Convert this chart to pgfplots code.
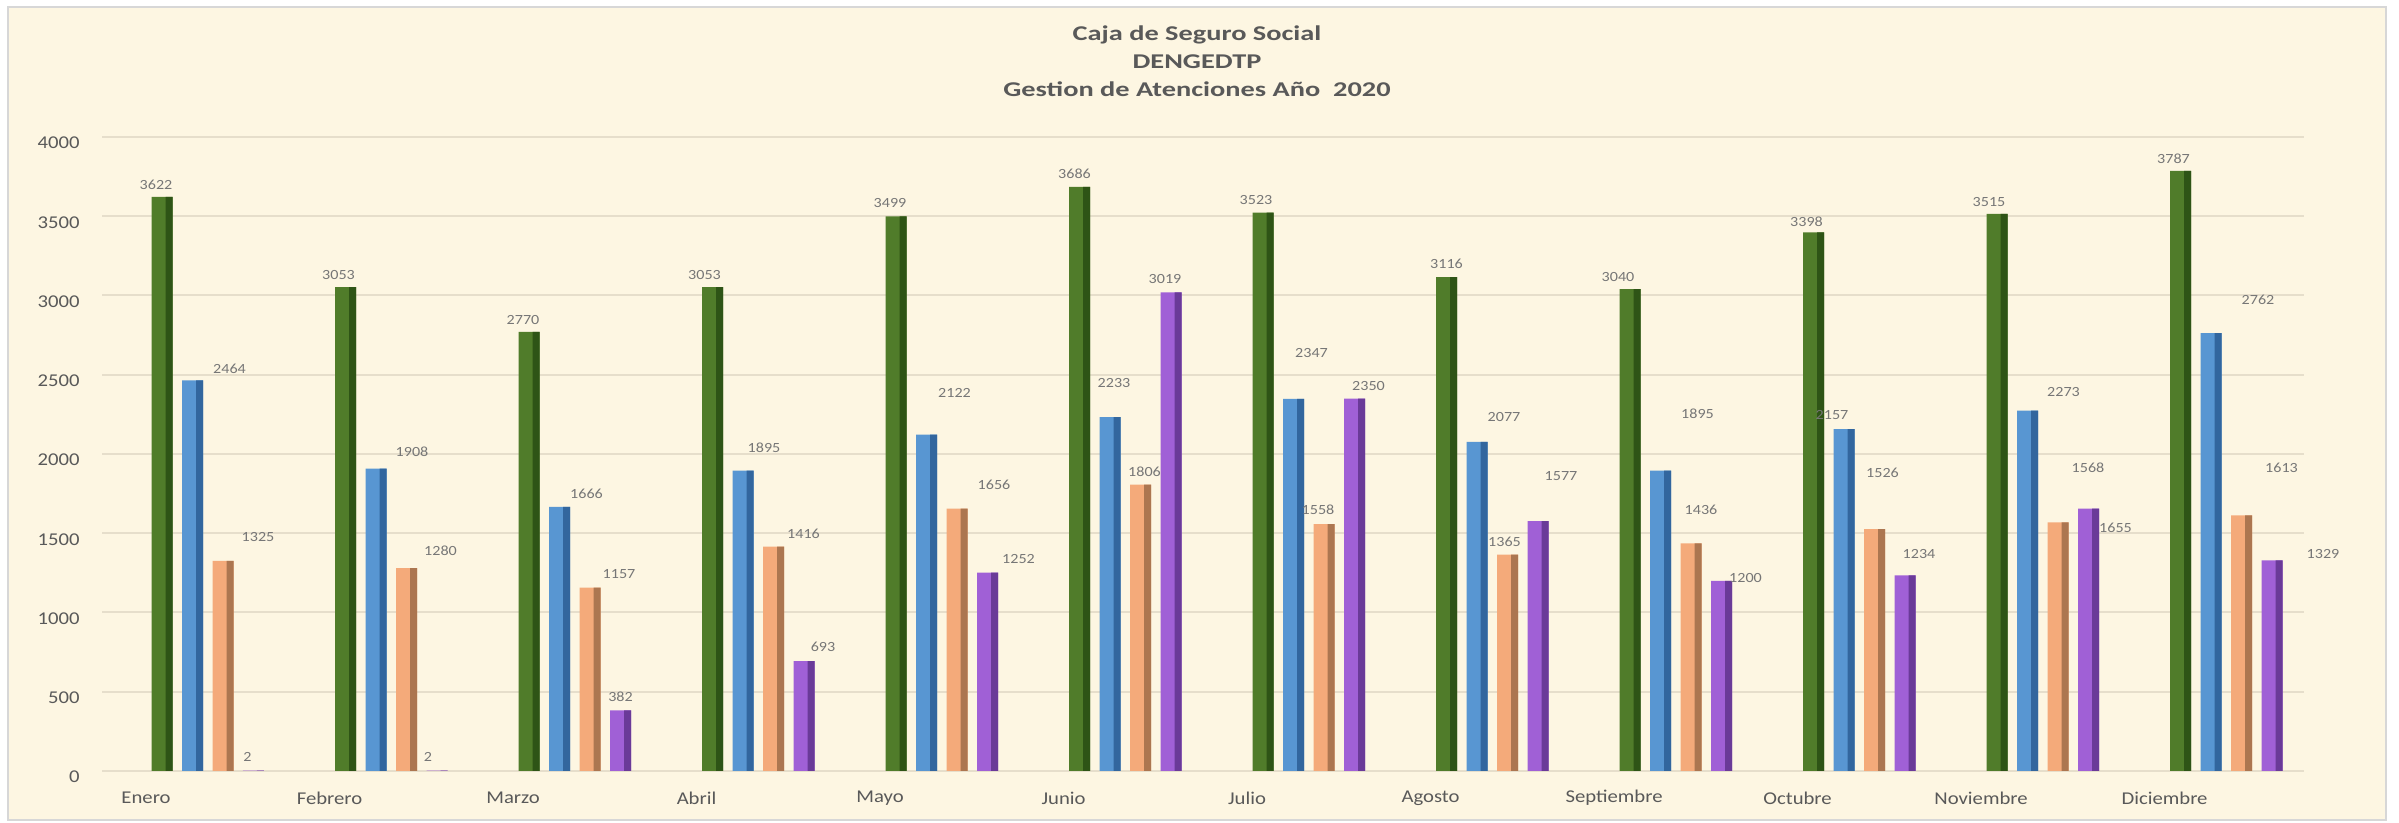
\documentclass[border=0pt]{standalone}
\usepackage{fontspec}
\setmainfont{Carlito}[FakeStretch=1.15]
\newfontfamily\titlefont{Carlito}[FakeStretch=1.35]
\usepackage{pgfplots}
\usepackage{pgfplotstable}
\pgfplotsset{compat=1.18}
\definecolor{bgc}{RGB}{253,246,226}
\definecolor{gridc}{RGB}{230,222,203}
\definecolor{framec}{RGB}{215,215,215}
\definecolor{titc}{RGB}{89,89,89}
\definecolor{lblc}{RGB}{118,118,118}
\definecolor{gL}{RGB}{80,124,42}
\definecolor{gD}{RGB}{46,84,22}
\definecolor{bL}{RGB}{88,150,210}
\definecolor{bD}{RGB}{50,102,158}
\definecolor{oL}{RGB}{244,170,122}
\definecolor{oD}{RGB}{172,118,80}
\definecolor{pL}{RGB}{160,96,214}
\definecolor{pD}{RGB}{106,58,152}

\pgfplotstableread{
x y dx dy
0 3622 -6 12
1 3053 -7 12
2 2770 -6 12
3 3053 -8 12
4 3499 -6 13
5 3686 -5 13
6 3523 -7 13
7 3116 0 13
8 3040 -12 12
9 3398 -7 11
10 3515 -8 12
11 3787 -7 12
}\greendata
\pgfplotstableread{
x y dx dy
0 2464 37 12
1 1908 36 17
2 1666 27 13
3 1895 21 23
4 2122 28 42
5 2233 4 34
6 2347 18 46
7 2077 27 25
8 1895 37 57
9 2157 -12 14
10 2273 36 19
11 2762 47 33
}\bluedata
\pgfplotstableread{
x y dx dy
0 1325 35 24
1 1280 34 17
2 1157 29 14
3 1416 30 13
4 1656 37 24
5 1806 4 13
6 1558 -6 14
7 1365 -3 13
8 1436 10 34
9 1526 8 56
10 1568 30 55
11 1613 40 48
}\orangedata
\pgfplotstableread{
x y dx dy
0 2 -6 14
1 2 -9 14
2 382 0 14
3 693 19 14
4 1252 31 14
5 3019 -6 13
6 2350 14 13
7 1577 23 45
8 1200 24 3
9 1234 14 21
10 1655 27 -19
11 1329 51 6
}\purpledata

\pgfplotsset{
  mybar/.style={ybar, bar width=10.5pt, bar shift=0pt, draw=none,
    visualization depends on={\thisrow{dx}\as\dx},
    visualization depends on={\thisrow{dy}\as\dy},
    nodes near coords,
    nodes near coords align={center},
    nodes near coords style={font=\fontsize{7}{8}\selectfont, text=lblc,
      xshift={\dx*0.5pt}, yshift={\dy*0.5pt}}},
  myside/.style={ybar, bar width=3.5pt, bar shift=3.5pt, draw=none, forget plot},
}

\begin{document}
\begin{tikzpicture}
\fill[white] (0,0) rectangle (1199.5pt,411.5pt);
\draw[framec, fill=bgc, line width=0.6pt] (4pt,1.5pt) rectangle (1193pt,408pt);
\begin{axis}[
  at={(51pt,26pt)}, anchor=south west,
  scale only axis, width=1101pt, height=317pt,
  xmin=-0.327, xmax=11.673, ymin=0, ymax=4000,
  enlargelimits=false,
  axis line style={draw=none},
  major tick length=0pt,
  ytick={0,500,...,4000},
  ymajorgrids,
  major grid style={color=gridc, line width=1pt},
  xtick={-0.087,0.913,1.913,2.913,3.913,4.913,5.913,6.913,7.913,8.913,9.913,10.913},
  xticklabels={Enero,Febrero,Marzo,Abril,Mayo,Junio,Julio,Agosto,Septiembre,Octubre,Noviembre,Diciembre},
  xticklabel style={anchor=center, yshift=-13.5pt, inner sep=0pt, font=\fontsize{9}{10}\selectfont, text=titc},
  yticklabel style={anchor=east, inner sep=0pt, xshift=-11pt, yshift=-3pt, font=\fontsize{9}{10}\selectfont, text=titc},
  /pgf/number format/assume math mode=true,
  /pgf/number format/1000 sep={},
  title={Caja de Seguro Social\\DENGEDTP\\Gestion de Atenciones Año\ \ 2020},
  title style={at={(0.5,1)}, anchor=center, yshift=32pt, xshift=-3pt, align=center,
    font=\titlefont\bfseries\fontsize{10.5}{14}\selectfont, text=titc},
  clip=false,
]
\addplot[mybar, fill=gL] table[x=x, y=y] {\greendata};
\addplot[myside, fill=gD] table[x=x, y=y] {\greendata};
\addplot[mybar, fill=bL] table[x expr=\thisrow{x}+0.1662, y=y] {\bluedata};
\addplot[myside, fill=bD] table[x expr=\thisrow{x}+0.1662, y=y] {\bluedata};
\addplot[mybar, fill=oL] table[x expr=\thisrow{x}+0.3324, y=y] {\orangedata};
\addplot[myside, fill=oD] table[x expr=\thisrow{x}+0.3324, y=y] {\orangedata};
\addplot[mybar, fill=pL] table[x expr=\thisrow{x}+0.4986, y=y] {\purpledata};
\addplot[myside, fill=pD] table[x expr=\thisrow{x}+0.4986, y=y] {\purpledata};
\end{axis}
\pgfresetboundingbox
\useasboundingbox (0,0) rectangle (1199.5pt,411.5pt);
\end{tikzpicture}
\end{document}
